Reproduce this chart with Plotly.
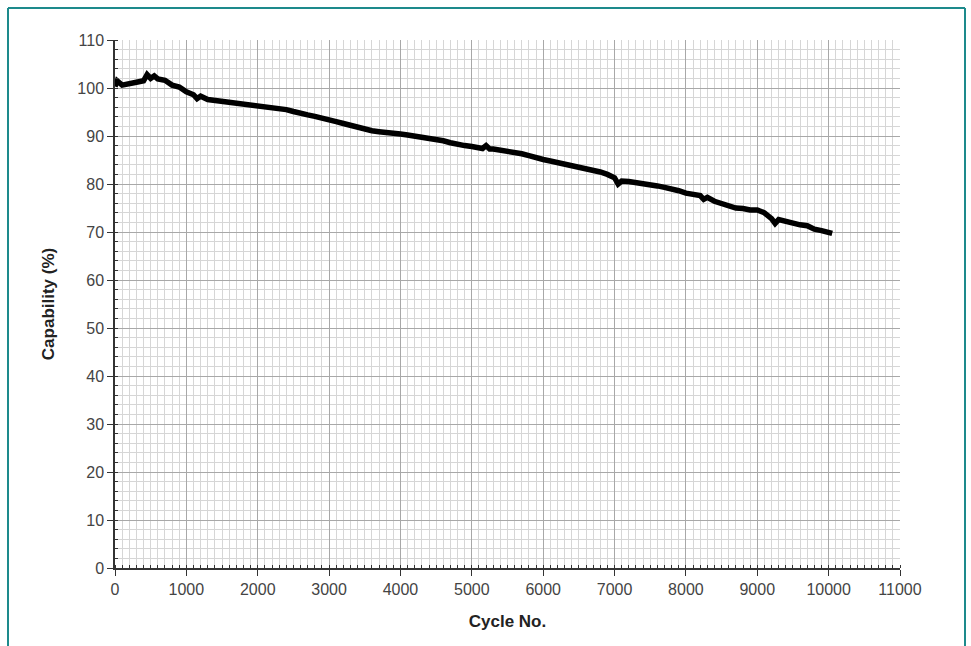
import plotly.graph_objects as go

cycles = [0, 30, 100, 200, 300, 400, 450, 500, 550, 600, 700, 800, 900, 1000, 1100, 1150, 1200, 1300, 1400,
          1500, 1600, 1700, 1800, 1900, 2000, 2100, 2200, 2300, 2400, 2500, 2600, 2700, 2800,
          2900, 3000, 3100, 3200, 3300, 3400, 3500, 3600, 3700, 3800, 3900, 4000, 4100, 4200,
          4300, 4400, 4500, 4600, 4700, 4800, 4900, 5000, 5100, 5150, 5200, 5250, 5300, 5400,
          5500, 5600, 5700, 5800, 5900, 6000, 6100, 6200, 6300, 6400, 6500, 6600, 6700, 6800,
          6900, 7000, 7050, 7100, 7200, 7300, 7400, 7500, 7600, 7700, 7800, 7900, 8000, 8100,
          8200, 8250, 8300, 8400, 8500, 8600, 8700, 8800, 8900, 9000, 9100, 9200, 9250, 9300,
          9400, 9500, 9600, 9700, 9800, 9900, 10000, 10050]
capability = [100.3, 101.5, 100.6, 101.0, 101.2, 101.5, 102.8, 102.0, 102.5, 101.9, 101.6, 100.6, 100.2, 99.2,
              98.6, 97.8, 98.3, 97.6, 97.4, 97.3, 97.1, 96.9, 96.8, 96.6, 96.4, 96.2, 96.0, 95.8, 95.5,
              95.1, 94.6, 94.4, 94.1, 93.8, 93.3, 93.0, 92.6, 92.2, 91.8, 91.4, 91.1, 90.9, 90.8,
              90.6, 90.4, 90.2, 90.0, 89.8, 89.6, 89.4, 89.0, 88.6, 88.2, 88.0, 87.8, 87.6, 87.4,
              88.0, 87.3, 87.3, 87.1, 86.9, 86.6, 86.3, 85.9, 85.4, 85.1, 84.8, 84.5, 84.1, 83.8,
              83.5, 83.3, 83.0, 82.5, 82.0, 81.3, 80.0, 80.6, 80.5, 80.3, 80.2, 79.9, 79.6, 79.3,
              79.0, 78.6, 78.1, 77.9, 77.6, 76.8, 77.2, 76.4, 75.9, 75.5, 75.0, 74.9, 74.6, 74.6,
              74.0, 72.8, 71.8, 72.6, 72.2, 71.8, 71.5, 71.3, 70.6, 70.3, 69.9, 69.7]

x_title = "Cycle No."
y_title = "Capability (%)"

fig = go.Figure()
fig.add_trace(go.Scatter(x=cycles, y=capability, mode="lines",
                         line=dict(color="black", width=5.5), showlegend=False))

tickfont = dict(family="Liberation Sans, Arial, sans-serif", size=16, color="#444444")
titlefont = dict(family="Liberation Sans, Arial, sans-serif", size=17, color="#222222", weight="bold")

fig.update_xaxes(range=[0, 11000], dtick=1000, tick0=0, tickformat="d", showgrid=True, gridcolor="#a8a8a8",
                 gridwidth=1, showline=True, linecolor="#333333", linewidth=1.5,
                 ticks="outside", ticklen=6, tickcolor="#333333", tickfont=tickfont,
                 zeroline=False, mirror=False,
                 minor=dict(dtick=100, tick0=0, showgrid=True, gridcolor="#d6d6d6", gridwidth=1,
                            ticks="inside", ticklen=3, tickcolor="#333333"),
                 title=dict(text=x_title, font=titlefont, standoff=18))
fig.update_yaxes(range=[0, 110], dtick=10, tick0=0, tickformat="d", showgrid=True, gridcolor="#a8a8a8",
                 gridwidth=1, showline=True, linecolor="#333333", linewidth=1.5,
                 ticks="outside", ticklen=6, tickcolor="#333333", tickfont=tickfont,
                 zeroline=False,
                 minor=dict(dtick=2, tick0=0, showgrid=True, gridcolor="#d6d6d6", gridwidth=1,
                            ticks="inside", ticklen=3, tickcolor="#333333"),
                 title=dict(text=y_title, font=titlefont, standoff=18))

L, R, T, B = 115, 71, 40, 78
W, H = 971, 646
pw, ph = W - L - R, H - T - B
def px(xp):
    return (xp - L) / pw
def py(yp):
    return (H - B - yp) / ph

teal = "#1d8a8c"
fig.add_shape(type="line", xref="paper", yref="paper", x0=px(8), x1=px(8), y0=py(660), y1=py(8),
              line=dict(color=teal, width=2))
fig.add_shape(type="line", xref="paper", yref="paper", x0=px(8), x1=px(965), y0=py(8), y1=py(8),
              line=dict(color=teal, width=2))
fig.add_shape(type="line", xref="paper", yref="paper", x0=px(965), x1=px(965), y0=py(660), y1=py(8),
              line=dict(color=teal, width=2))

fig.update_layout(width=W, height=H, margin=dict(l=L, r=R, t=T, b=B, autoexpand=False),
                  plot_bgcolor="white", paper_bgcolor="white")

fig.write_html("out.html")
